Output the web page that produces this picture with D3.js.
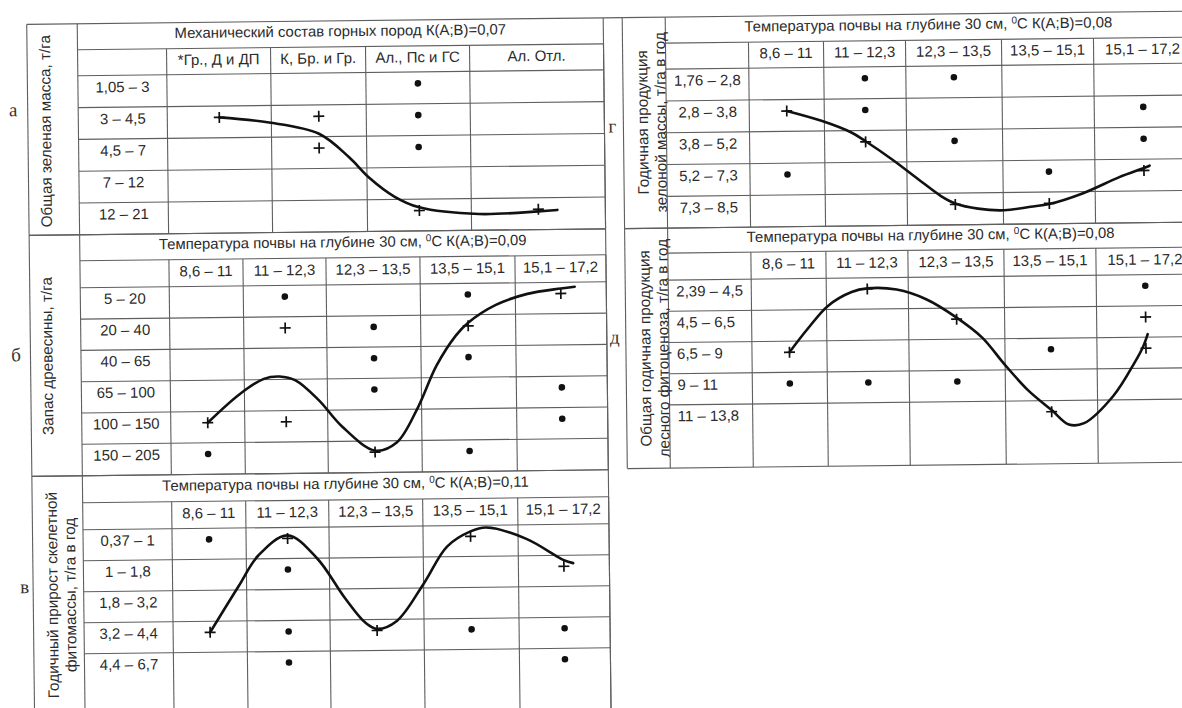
<!DOCTYPE html>
<html><head><meta charset="utf-8">
<script src="https://cdn.jsdelivr.net/npm/d3@7/dist/d3.min.js"></script>
<style>
html,body{margin:0;padding:0;background:#fff;}
svg{display:block;}
text{font-family:"Liberation Sans",Arial,sans-serif;fill:#2b2b2b;}
.letter{font-family:"Liberation Serif","Times New Roman",serif;font-size:19px;fill:#333;}
</style>
</head><body>
<svg id="chart" width="1182" height="708"></svg>
<script>
// ---------------- DATA ----------------
const tempCols = ["8,6 – 11","11 – 12,3","12,3 – 13,5","13,5 – 15,1","15,1 – 17,2"];

// а
const aLetter = "а";
const aTitle = "Механический состав горных пород К(А;В)=0,07";
const aAxis = ["Общая зеленая масса, т/га"];
const aCols = ["*Гр., Д и ДП","К, Бр. и Гр.","Ал., Пс и ГС","Ал. Отл."];
const aRows = ["1,05 – 3","3 – 4,5","4,5 – 7","7 – 12","12 – 21"];
const aPlus = [[0,1],[1,1],[1,2],[2,4],[3,4]];
const aDots = [[2,0],[2,1],[2,2]];
const aCurve = [[0,1],[0.5,1.18],[1,1.55],[1.3,2.3],[1.5,2.95],[1.75,3.55],[2,3.9],[2.5,4.13],[3,4.07],[3.16,4.03]];

// б
const bLetter = "б";
const bK = "0,09";
const bAxis = ["Запас древесины, т/га"];
const bRows = ["5 – 20","20 – 40","40 – 65","65 – 100","100 – 150","150 – 205"];
const bPlus = [[4,0],[1,1],[3,1],[0,4],[1,4],[2,5]];
const bDots = [[1,0],[3,0],[2,1],[2,2],[3,2],[2,3],[4,3],[4,4],[0,5],[3,5]];
const bCurve = [[0,4],[0.41,3.1],[0.72,2.62],[0.92,2.55],[1.11,2.68],[1.37,3.32],[1.63,4.17],[2,4.95],[2.23,4.7],[2.45,3.64],[2.66,2.26],[2.87,1.3],[3,0.9],[3.3,0.34],[3.64,0.0],[4,-0.16],[4.15,-0.21]];

// в
const vLetter = "в";
const vK = "0,11";
const vAxis = ["Годичный прирост скелетной","фитомассы, т/га в год"];
const vRows = ["0,37 – 1","1 – 1,8","1,8 – 3,2","3,2 – 4,4","4,4 – 6,7"];
const vPlus = [[0,3],[1,0],[2,3],[3,0],[4,1]];
const vDots = [[0,0],[1,1],[1,3],[1,4],[3,3],[4,3],[4,4]];
const vCurve = [[0,3],[0.375,1.5],[0.625,0.54],[1,-0.1],[1.33,0.65],[1.64,1.94],[1.87,2.75],[2,2.95],[2.21,2.7],[2.5,1.5],[2.75,0.32],[3,-0.16],[3.17,-0.28],[3.6,0.1],[4,0.8],[4.1,0.9]];

// г
const gLetter = "г";
const gK = "0,08";
const gAxis = ["Годичная продукция","зелоной массы, т/га в год"];
const gRows = ["1,76 – 2,8","2,8 – 3,8","3,8 – 5,2","5,2 – 7,3","7,3 – 8,5"];
const gPlus = [[0,1],[1,2],[2,4],[3,4],[4,3]];
const gDots = [[0,3],[1,0],[1,1],[2,0],[2,2],[3,3],[4,1],[4,2]];
const gCurve = [[0,1],[0.45,1.33],[0.82,1.7],[1,1.98],[1.3,2.57],[1.59,3.2],[1.84,3.73],[2,3.97],[2.24,4.14],[2.52,4.2],[2.8,4.1],[3,4.02],[3.35,3.7],[3.74,3.2],[4,2.92],[4.06,2.85]];

// д
const dLetter = "д";
const dK = "0,08";
const dAxis = ["Общая годичная продукция","лесного фитоценоза, т/га в год"];
const dRows = ["2,39 – 4,5","4,5 – 6,5","6,5 – 9","9 – 11","11 – 13,8"];
const dPlus = [[0,2],[1,0],[2,1],[3,4],[4,1],[4,2]];
const dDots = [[0,3],[1,3],[2,3],[3,2],[4,0]];
const dCurve = [[0,2],[0.23,1.27],[0.5,0.52],[0.8,0.09],[1,-0.02],[1.33,0.03],[1.66,0.35],[2,0.95],[2.27,1.6],[2.5,2.45],[2.75,3.3],[3,3.95],[3.18,4.42],[3.34,4.38],[3.65,3.52],[3.88,2.45],[3.97,1.95],[4.02,1.55]];

const tempTitle = "Температура почвы на глубине 30 см, ";

// ---------------- DRAW ----------------
const svg = d3.select("#chart");
svg.append("rect").attr("width",1182).attr("height",708).attr("fill","#fff");
const root = svg.append("g").attr("transform","rotate(-0.65,591,354)");

const LINE = "#5e5e5e";
function hline(g,x1,x2,y){g.append("line").attr("x1",x1).attr("x2",x2).attr("y1",y).attr("y2",y).attr("stroke",LINE).attr("stroke-width",1.1);}
function vline(g,x,y1,y2){g.append("line").attr("x1",x).attr("x2",x).attr("y1",y1).attr("y2",y2).attr("stroke",LINE).attr("stroke-width",1.1);}

const LIFT = 4.5; // content sits slightly above cell centre in the scan

function panel(p){
  const g = root.append("g");
  const n = p.rows.length;
  const colCenters = p.edges.slice(0,-1).map((e,i)=>(e+p.edges[i+1])/2);
  const x = d3.scaleLinear().domain(d3.range(p.cols.length)).range(colCenters);
  const y = d3.scaleLinear().domain([-0.5,n-0.5]).range([p.headB-LIFT,p.headB+n*p.pitch-LIFT]);
  const yLine = i => p.headB + i*p.pitch;
  // grid
  hline(g,p.x0,p.right,p.top);
  hline(g,p.xLab,p.right,p.titleB);
  hline(g,p.xLab,p.right,p.headB);
  for(let i=1;i<n;i++) hline(g,p.xLab,p.right,yLine(i));
  if(p.bottom<708) hline(g,p.x0,p.right,p.bottom);
  vline(g,p.x0,p.top,p.bottom);
  vline(g,p.xLab,p.top,p.bottom);
  p.edges.forEach(e=>vline(g,e,p.titleB,p.bottom));
  // title
  const t = g.append("text").attr("x",(p.xLab+p.right)/2).attr("y",(p.top+p.titleB)/2-3).attr("dy","0.36em")
    .attr("text-anchor","middle").style("font-size","14.9px");
  if(p.k===undefined){ t.text(p.title); }
  else {
    t.append("tspan").text(p.title);
    t.append("tspan").attr("dy","-5").style("font-size","10px").text("0");
    t.append("tspan").attr("dy","5").text("C К(А;В)="+p.k);
  }
  // column headers
  g.selectAll(null).data(p.cols).enter().append("text")
    .attr("x",(d,i)=>x(i)).attr("y",(p.titleB+p.headB)/2-2).attr("dy","0.36em")
    .attr("text-anchor","middle").style("font-size","15px").text(d=>d);
  // row labels
  g.selectAll(null).data(p.rows).enter().append("text")
    .attr("x",p.leftRows ? p.xLab+8 : (p.xLab+p.xRow)/2).attr("y",(d,i)=>y(i)).attr("dy","0.36em")
    .attr("text-anchor",p.leftRows?"start":"middle").style("font-size","15px").text(d=>d);
  // axis label (rotated)
  p.axis.forEach((s,i)=>{
    g.append("text").attr("transform",`translate(${p.axX[i]},${p.axY}) rotate(-90)`)
      .attr("text-anchor","middle").attr("dy","0.36em").style("font-size","15.3px").text(s);
  });
  // letter
  root.append("text").attr("class","letter").attr("x",p.letterX).attr("y",p.letterY).attr("dy","0.3em")
    .attr("text-anchor","middle").text(p.letter);
  // curve
  const line = d3.line().x(d=>x(d[0])).y(d=>y(d[1])).curve(d3.curveCatmullRom.alpha(0.5));
  g.append("path").attr("d",line(p.curve)).attr("fill","none").attr("stroke","#111").attr("stroke-width",2.6).attr("stroke-linecap","round");
  // dots
  g.selectAll(null).data(p.dots).enter().append("circle")
    .attr("cx",d=>x(d[0])).attr("cy",d=>y(d[1])).attr("r",3.3).attr("fill","#111");
  // plus
  const pl = g.selectAll(null).data(p.plus).enter().append("g")
    .attr("transform",d=>`translate(${x(d[0])},${y(d[1])})`);
  pl.append("line").attr("x1",-5.5).attr("x2",5.5).attr("stroke","#111").attr("stroke-width",1.7);
  pl.append("line").attr("y1",-5.5).attr("y2",5.5).attr("stroke","#111").attr("stroke-width",1.7);
}

const L = {x0:30.5, xLab:81, xRow:170, right:607};
const R = {x0:626, xLab:669, xRow:752, right:1195};
const lEdgesA = [170,274,369,473,607];
const lEdges = [170,244,327,421,516,607];
const rEdges = [752,827,909,1005,1097,1195];

panel(Object.assign({},L,{top:18,titleB:44,headB:70,pitch:31.8,bottom:229,edges:lEdgesA,
  title:aTitle,cols:aCols,rows:aRows,plus:aPlus,dots:aDots,curve:aCurve,axis:aAxis,axX:[48],axY:125,
  letter:aLetter,letterX:16,letterY:104}));
panel(Object.assign({},L,{top:229,titleB:255,headB:282,pitch:31.3,bottom:470,edges:lEdges,
  title:tempTitle,k:bK,cols:tempCols,rows:bRows,plus:bPlus,dots:bDots,curve:bCurve,axis:bAxis,axX:[47],axY:350,
  letter:bLetter,letterX:16,letterY:349}));
panel(Object.assign({},L,{top:470,titleB:497,headB:524,pitch:31,bottom:730,edges:lEdges,
  title:tempTitle,k:vK,cols:tempCols,rows:vRows,plus:vPlus,dots:vDots,curve:vCurve,axis:vAxis,axX:[49.5,67.5],axY:589,
  letter:vLetter,letterX:22,letterY:581}));
panel(Object.assign({},R,{top:18,titleB:44,headB:70,pitch:31.8,bottom:229,edges:rEdges,
  title:tempTitle,k:gK,cols:tempCols,rows:gRows,plus:gPlus,dots:gDots,curve:gCurve,axis:gAxis,axX:[645,663],axY:123,
  letter:gLetter,letterX:615,letterY:127}));
panel(Object.assign({},R,{top:229,titleB:254,headB:281,pitch:31.2,bottom:469,edges:rEdges,leftRows:true,
  title:tempTitle,k:dK,cols:tempCols,rows:dRows,plus:dPlus,dots:dDots,curve:dCurve,axis:dAxis,axX:[645,663],axY:349,
  letter:dLetter,letterX:615,letterY:338}));
// gap column between tables
vline(root,L.right,18,730);
hline(root,L.right,R.x0,18);
</script>
</body></html>
